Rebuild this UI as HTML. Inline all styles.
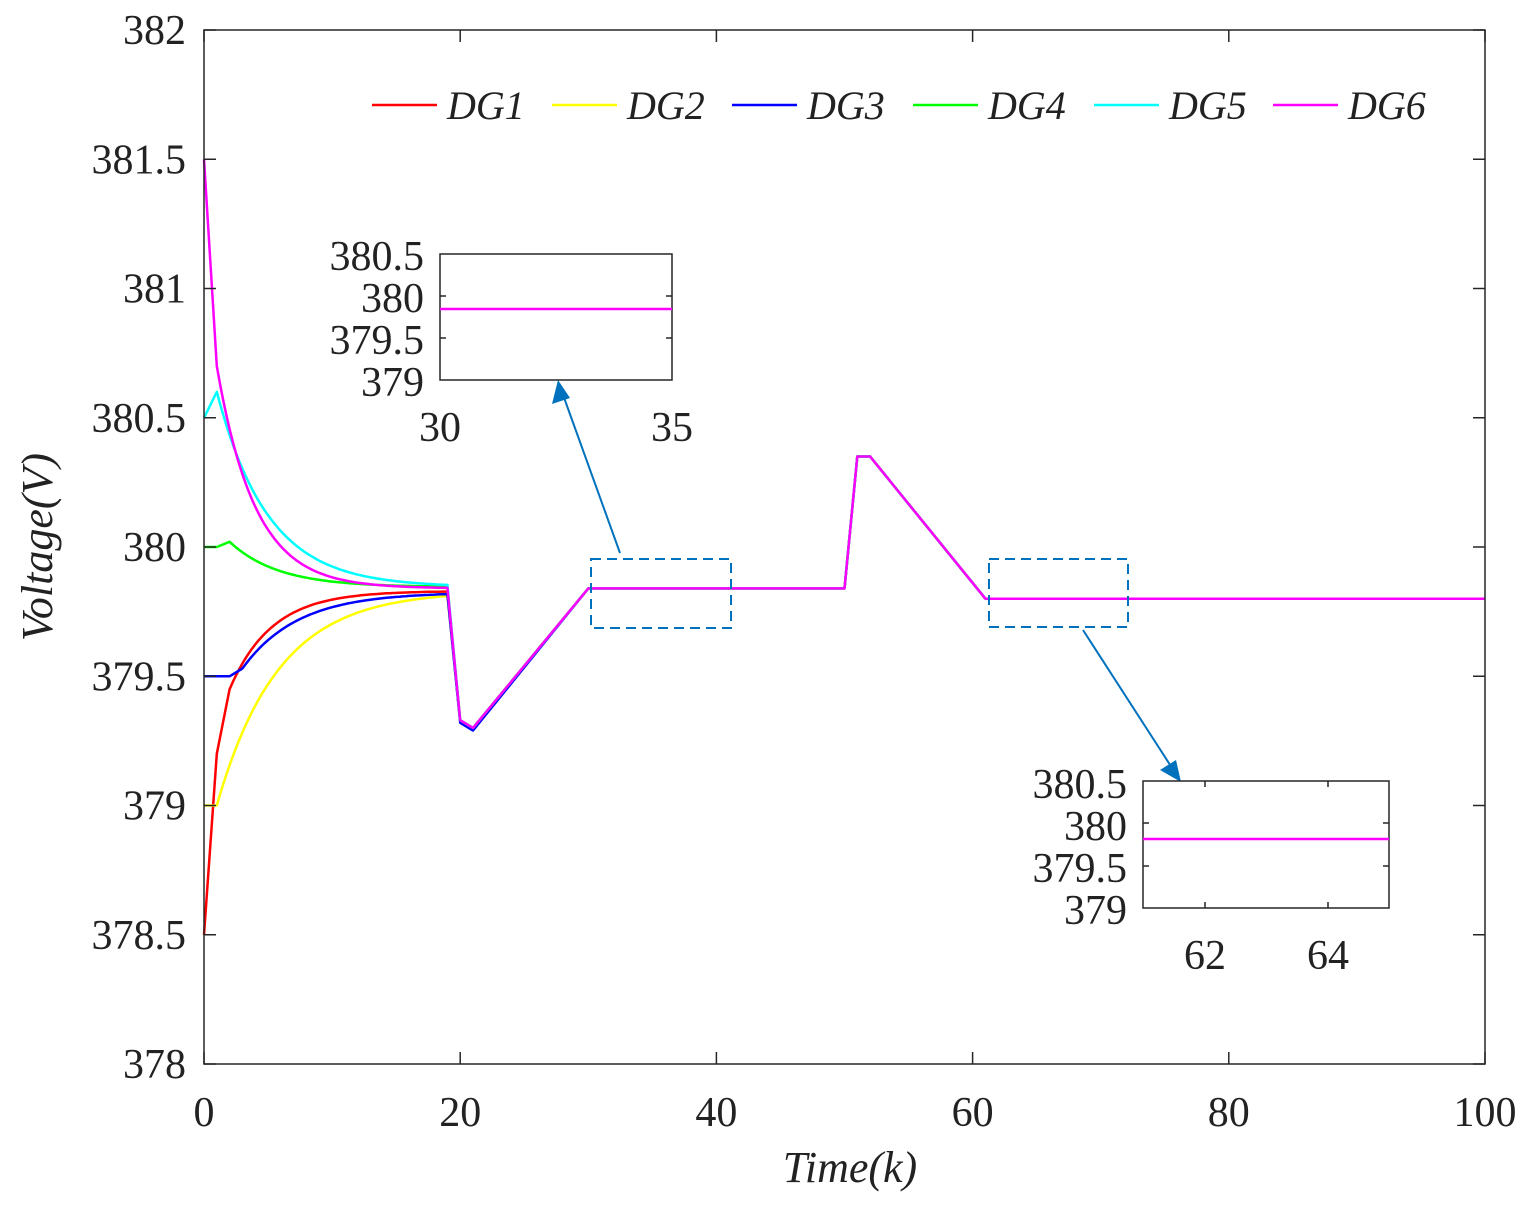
<!DOCTYPE html>
<html><head><meta charset="utf-8"><style>
body{margin:0;background:#fff}
text{font-family:"Liberation Serif","DejaVu Serif",serif;fill:#222}
</style></head><body>
<svg id="s" width="1534" height="1213" xmlns="http://www.w3.org/2000/svg" font-family="Liberation Serif, DejaVu Serif, serif">
<rect x="0" y="0" width="1534" height="1213" fill="#fff"/>
<g id="plot"></g>
<rect x="204" y="30" width="1281" height="1034" fill="none" stroke="#262626" stroke-width="1.5"/>
<g id="ticks" stroke="#262626" stroke-width="1.5"></g>
<g font-size="42" text-anchor="end" id="ylab"></g>
<g font-size="42" text-anchor="middle" id="xlab"></g>
<text x="850" y="1182" font-size="44" text-anchor="middle" font-style="italic">Time(k)</text>
<text transform="translate(52,547) rotate(-90)" font-size="44" text-anchor="middle" font-style="italic">Voltage(V)</text>
<g id="leg" font-size="40" font-style="italic"></g>
<g stroke="#0072BD" stroke-width="2" fill="none">
<rect x="591" y="559" width="140" height="69" stroke-dasharray="10,6"/>
<rect x="989" y="559" width="139" height="68" stroke-dasharray="10,6"/>
<line x1="620" y1="553" x2="562" y2="392"/>
<line x1="1083" y1="630" x2="1174" y2="771"/>
</g>
<polygon points="558,380 552,404 570,398" fill="#0072BD"/>
<polygon points="1181,782 1160,770 1176,760" fill="#0072BD"/>
<rect x="440" y="254" width="232" height="126" fill="#fff" stroke="#262626" stroke-width="1.5"/>
<line x1="440" y1="309" x2="672" y2="309" stroke="#ff00ff" stroke-width="2.5"/>
<g stroke="#262626" stroke-width="1.5"><line x1="440" y1="296" x2="446" y2="296"/><line x1="440" y1="338" x2="446" y2="338"/><line x1="666" y1="296" x2="672" y2="296"/><line x1="666" y1="338" x2="672" y2="338"/></g>
<g font-size="42" text-anchor="end"><text x="424" y="270">380.5</text><text x="424" y="312">380</text><text x="424" y="354">379.5</text><text x="424" y="396">379</text></g>
<g font-size="42" text-anchor="middle"><text x="440" y="441">30</text><text x="672" y="441">35</text></g>
<rect x="1143" y="781" width="246" height="127" fill="#fff" stroke="#262626" stroke-width="1.5"/>
<line x1="1143" y1="839" x2="1389" y2="839" stroke="#ff00ff" stroke-width="2.5"/>
<g stroke="#262626" stroke-width="1.5"><line x1="1143" y1="823" x2="1149" y2="823"/><line x1="1143" y1="866" x2="1149" y2="866"/><line x1="1383" y1="823" x2="1389" y2="823"/><line x1="1383" y1="866" x2="1389" y2="866"/><line x1="1205" y1="908" x2="1205" y2="902"/><line x1="1328" y1="908" x2="1328" y2="902"/><line x1="1205" y1="781" x2="1205" y2="787"/><line x1="1328" y1="781" x2="1328" y2="787"/></g>
<g font-size="42" text-anchor="end"><text x="1127" y="798">380.5</text><text x="1127" y="840">380</text><text x="1127" y="882">379.5</text><text x="1127" y="924">379</text></g>
<g font-size="42" text-anchor="middle"><text x="1205" y="969">62</text><text x="1328" y="969">64</text></g>
</svg>
<script>
var NS="http://www.w3.org/2000/svg";
function X(t){return 204+t*12.81}
function Y(v){return 1064-(v-378)*258.5}
function el(p,tag,a,txt){var e=document.createElementNS(NS,tag);for(var k in a)e.setAttribute(k,a[k]);if(txt)e.textContent=txt;document.getElementById(p).appendChild(e);return e}
var F=379.84;
function curve(pre,start,v0,tau,end){var pts=pre.slice();for(var t=start;t<=19;t+=0.25){pts.push([t,end+(v0-end)*Math.exp(-(t-start)/tau)])}return pts}
var tail=[[20,379.33],[21,379.3],[30,F],[50,F],[51,380.35],[52,380.35],[61,379.8],[100,379.8]];
var S=[
["#ff0000",curve([[0,378.5],[1,379.2]],2,379.45,3.3,379.83)],
["#ffff00",curve([[0,379]],1,379,4.8,379.83)],
["#0000ff",curve([[0,379.5],[2,379.5],[3,379.53]],3,379.53,4.3,379.825)],
["#00ff00",curve([[0,380],[1,380]],2,380.02,3.8,379.845)],
["#00ffff",curve([[0,380.5]],1,380.6,4,379.845)],
["#ff00ff",curve([[0,381.5]],1,380.7,3,379.84)]
];
S.forEach(function(s,i){var p=s[1].concat(tail.map(function(q,j){return [q[0],q[1]+(j<2?(i==2?-0.01:0):0)]}));
el("plot","polyline",{points:p.map(function(q){return X(q[0]).toFixed(1)+","+Y(q[1]).toFixed(1)}).join(" "),fill:"none",stroke:s[0],"stroke-width":2.5,"stroke-linejoin":"round"})});
for(var i=0;i<=8;i++){var v=378+i*0.5,y=Y(v);el("ticks","line",{x1:204,y1:y,x2:216,y2:y});el("ticks","line",{x1:1485,y1:y,x2:1473,y2:y});
el("ylab","text",{x:186,y:y+14},(v%1==0)?String(v):v.toFixed(1))}
for(var i=0;i<=5;i++){var x=X(i*20);el("ticks","line",{x1:x,y1:1064,x2:x,y2:1052});el("ticks","line",{x1:x,y1:30,x2:x,y2:42});el("xlab","text",{x:x,y:1126},String(i*20))}
var L=[[372,"#ff0000","DG1"],[552,"#ffff00","DG2"],[732,"#0000ff","DG3"],[913,"#00ff00","DG4"],[1094,"#00ffff","DG5"],[1273,"#ff00ff","DG6"]];
L.forEach(function(l){el("leg","line",{x1:l[0],y1:105,x2:l[0]+65,y2:105,stroke:l[1],"stroke-width":2.5});el("leg","text",{x:l[0]+75,y:119},l[2])});
</script>
</body></html>
